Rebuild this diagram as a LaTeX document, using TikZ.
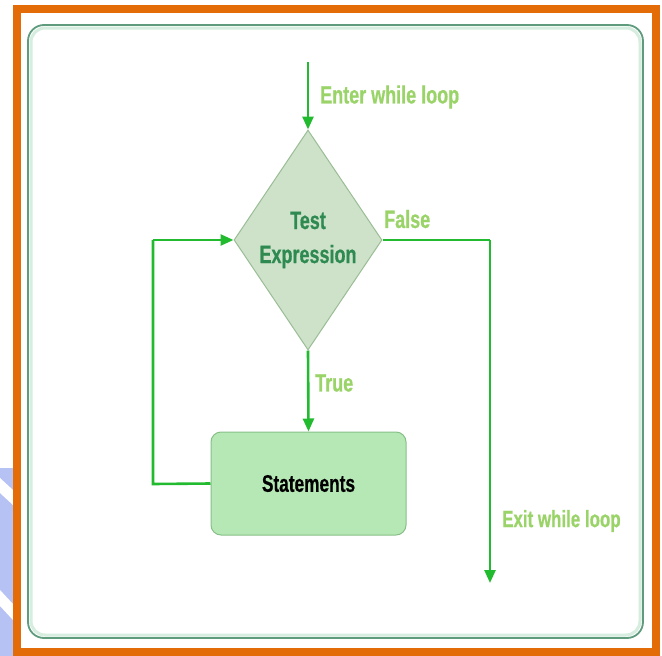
\documentclass[tikz,border=0pt]{standalone}
\usepackage{fontspec}
\usetikzlibrary{shapes.geometric,arrows.meta}
\newfontfamily\lblfont[FakeStretch=0.72,FakeBold=0.6]{Liberation Sans Bold}
\definecolor{frameorange}{HTML}{E36C09}
\definecolor{innerborder}{HTML}{5F9C7E}
\definecolor{innerglow}{HTML}{D6EDDF}
\definecolor{arrowgreen}{HTML}{22BB30}
\definecolor{lightlabel}{HTML}{9AD468}
\definecolor{darklabel}{HTML}{2E8A50}
\definecolor{diamondfill}{HTML}{CDE2C9}
\definecolor{diamondline}{HTML}{9BBD96}
\definecolor{boxfill}{HTML}{B5E8B4}
\definecolor{boxline}{HTML}{88BF88}
\definecolor{wmblue}{HTML}{B6C2F4}
\tikzset{
  flow/.style={draw=arrowgreen, line width=2.6pt, -{Triangle[length=13pt,width=11pt]}},
  flowline/.style={draw=arrowgreen, line width=2.6pt},
  lbl/.style={font=\lblfont\fontsize{25}{35}\selectfont, text=lightlabel, inner sep=0pt, anchor=west},
  decision/.style={diamond, draw=diamondline, line width=1pt, fill=diamondfill, aspect=0.6727,
    minimum width=148pt, minimum height=220pt, inner sep=0pt, align=center,
    font=\lblfont\fontsize{25}{34}\selectfont, text=darklabel},
  stmtbox/.style={rectangle, rounded corners=10pt, draw=boxline, line width=1pt, fill=boxfill,
    minimum width=195pt, minimum height=103pt, inner sep=0pt,
    font=\lblfont\fontsize{24}{34}\selectfont, text=black}
}
\begin{document}
\begin{tikzpicture}[x=1pt,y=-1pt]
\useasboundingbox (0,0) rectangle (662,656);
\fill[white] (0,0) rectangle (662,656);
% watermark on the left edge
\fill[wmblue] (0,468) rectangle (13,656);
\fill[white] (0,478) -- (13,490) -- (13,505) -- (0,493) -- cycle;
\fill[white] (0,590) -- (13,604) -- (13,620) -- (0,606) -- cycle;
% orange frame
\draw[frameorange, line width=8pt] (16.5,8.5) rectangle (655.5,652);
% inner rounded panel
\draw[innerglow, line width=3pt, rounded corners=14pt] (31,28) rectangle (640,635);
\draw[innerborder, line width=1.8pt, rounded corners=16pt] (28,25) rectangle (643,638);
% nodes
\node[decision] (test) at (308,240) {Test\\Expression};
\node[stmtbox] (stmt) at (308.5,483.5) {Statements};
\coordinate (enter) at (308,62);
\coordinate (exit) at (490,583);
\coordinate (fcorner) at (490,240);
\coordinate (lbottom) at (153,484);
\coordinate (ltop) at (153,240);
% connectors
\draw[flow] (enter) -- (test.north);
\draw[flow] (test.south) -- (stmt.north);
\draw[flowline] (test.east) -- (fcorner);
\draw[flow] (fcorner) -- (exit);
\draw[flowline] (stmt.west) -- (lbottom) -- (ltop);
\draw[flow] (ltop) -- (test.west);
% labels
\node[lbl] (enterlbl) at (320,97) {Enter while loop};
\node[lbl] (falselbl) at (384,219) {False};
\node[lbl] (truelbl) at (315,383) {True};
\node[lbl, font=\lblfont\fontsize{23.5}{34}\selectfont] (exitlbl) at (502,521) {Exit while loop};
\end{tikzpicture}
\end{document}
